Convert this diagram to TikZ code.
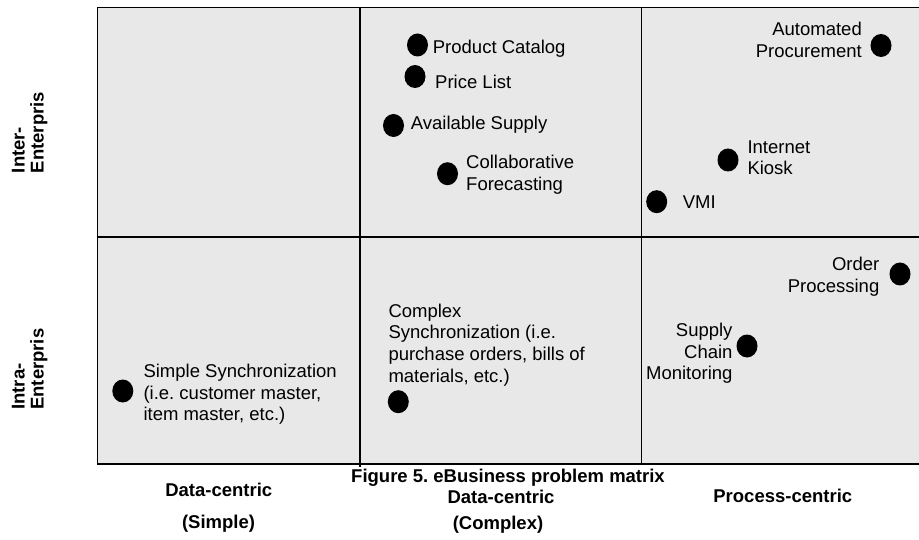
\documentclass[tikz,border=0pt]{standalone}
\usepackage{fontspec}
\setmainfont{Liberation Sans}
\usetikzlibrary{shapes.geometric}
\definecolor{cellgrey}{RGB}{232,232,232}
\frenchspacing
% multi-line label whose reference point is the first baseline
\newcommand\lines[2][l]{\begin{tabular}[t]{@{}#1@{}}#2\end{tabular}}
\begin{document}
\begin{tikzpicture}[x=1pt,y=-1pt,
  grid/.style={draw=black,line width=1.5pt},
  dot/.style={shape=ellipse,fill=black,inner sep=0pt,minimum width=21pt,minimum height=23pt},
  lbl/.style={inner sep=0pt,font=\fontsize{18.5}{21.7}\selectfont},
  axis/.style={inner sep=0pt,font=\fontsize{18.5}{18.5}\selectfont\bfseries},
  caption/.style={inner sep=0pt,font=\fontsize{18.5}{21.7}\selectfont\bfseries}]
\useasboundingbox (0,0) rectangle (919,540);
\clip (0,0) rectangle (919,540);

% matrix cells
\fill[cellgrey] (97.5,7.5) rectangle (940,464);
\draw[grid] (940,7.5) -- (97.5,7.5) -- (97.5,464) -- (940,464);
\draw[grid] (97.5,237) -- (940,237);
\draw[grid] (360,7.5) -- (360,467);
\draw[grid] (641.5,7.5) -- (641.5,464);

% row headings
\node[axis,rotate=90,anchor=base west] (inter) at (24.7,173.3) {\lines{Inter-\\Enterpris}};
\node[axis,rotate=90,anchor=base west] (intra) at (24.7,410) {\lines{Intra-\\Enterpris}};

% column headings and caption
\node[caption,anchor=base] (fig) at (508,482) {Figure 5. eBusiness problem matrix};
\node[caption,anchor=base] (c1a) at (218.8,496) {Data-centric};
\node[caption,anchor=base] (c1b) at (218.5,528) {(Simple)};
\node[caption,anchor=base] (c2a) at (501,503.3) {Data-centric};
\node[caption,anchor=base] (c2b) at (498,529) {(Complex)};
\node[caption,anchor=base] (c3) at (782.8,502.3) {Process-centric};

% inter-enterprise, data-centric (complex)
\node[dot] (d1) at (417.5,45) {};
\node[lbl,anchor=base west] (t1) at (432.7,53.3) {Product Catalog};
\node[dot] (d2) at (415,76.5) {};
\node[lbl,anchor=base west] (t2) at (435,88.3) {Price List};
\node[dot] (d3) at (393.5,125.5) {};
\node[lbl,anchor=base west] (t3) at (410.7,130) {Available Supply};
\node[dot] (d4) at (447.5,173.7) {};
\node[lbl,anchor=base west] (t4) at (466,169) {\lines{Collaborative\\Forecasting}};

% inter-enterprise, process-centric
\node[dot] (d5) at (881,45.5) {};
\node[lbl,anchor=base east] (t5) at (862,35.5) {\lines[r]{Automated\\Procurement}};
\node[dot] (d6) at (728,160) {};
\node[lbl,anchor=base west] (t6) at (747.3,153.3) {\lines{Internet\\Kiosk}};
\node[dot] (d7) at (656.7,201.7) {};
\node[lbl,anchor=base west] (t7) at (682.7,208.3) {VMI};

% intra-enterprise, process-centric
\node[dot] (d8) at (900,274) {};
\node[lbl,anchor=base east] (t8) at (879.5,270.5) {\lines[r]{Order\\Processing}};
\node[dot] (d9) at (747,346) {};
\node[lbl,anchor=base east] (t9) at (732.7,336.5) {\lines[r]{Supply\\Chain\\Monitoring}};

% intra-enterprise, data-centric
\node[dot] (d10) at (398.3,401.7) {};
\node[lbl,anchor=base west] (t10) at (388.3,317) {\lines{Complex\\Synchronization (i.e.\\purchase orders, bills of\\materials, etc.)}};
\node[dot] (d11) at (122.8,391) {};
\node[lbl,anchor=base west] (t11) at (143.3,377.3) {\lines{Simple Synchronization\\(i.e. customer master,\\item master, etc.)}};
\end{tikzpicture}
\end{document}
